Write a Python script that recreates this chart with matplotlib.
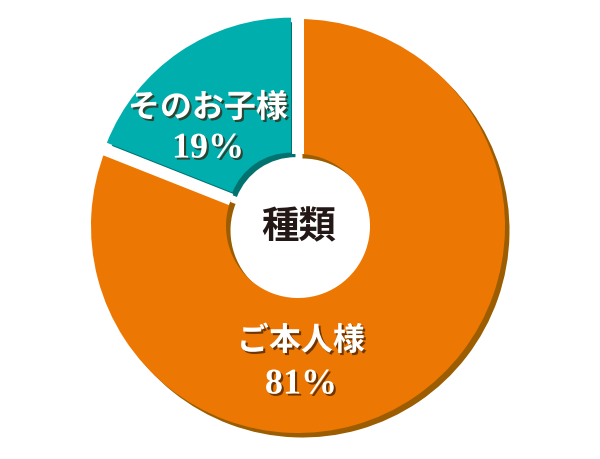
import numpy as np
import matplotlib
matplotlib.use("Agg")
import matplotlib.pyplot as plt
from matplotlib.patches import Wedge
import matplotlib.patheffects as pe

# Chart data
labels = ["ご本人様", "そのお子様"]
shares = [81, 19]
center_title = "種類"

face_colors = ["#ED7703", "#00AEAE"]
shadow_colors = ["#9C5D00", "#00726F"]

# Layout (pixel units, y up)
W, H = 600, 460
CX, CY = 298, 233          # donut centre
R_OUT, R_IN = 207, 72
EXPLODE = [0, 12.5]        # pull-out of each slice
SHRINK = [0, 9]            # radius trim on exploded slice
GAP = 12                   # white gap between slices (px)
SHADOW = (4.5, -4.5)

fig = plt.figure(figsize=(6, 4.6), dpi=100)
ax = fig.add_axes([0, 0, 1, 1])
ax.set_xlim(0, W)
ax.set_ylim(0, H)
ax.axis("off")

# angles: start at 12 o'clock, clockwise
ends = 90 - 3.6 * np.cumsum(shares)
starts = np.concatenate([[90], ends[:-1]])

def slice_center(i):
    mid = np.deg2rad((starts[i] + ends[i]) / 2)
    return CX + EXPLODE[i] * np.cos(mid), CY + EXPLODE[i] * np.sin(mid)

lw_pt = GAP * 72 / 100
for i in range(len(shares)):
    cx, cy = slice_center(i)
    r_out = R_OUT - SHRINK[i]
    r_in = R_IN - SHRINK[i]
    ax.add_patch(Wedge((cx + SHADOW[0], cy + SHADOW[1]), r_out, ends[i], starts[i],
                       width=r_out - r_in, facecolor=shadow_colors[i], edgecolor="none"))
    ax.add_patch(Wedge((cx, cy), r_out, ends[i], starts[i],
                       width=r_out - r_in, facecolor=face_colors[i], edgecolor="none"))
    if EXPLODE[i] == 0:
        # cut white gaps along the radial edges of the fixed slice
        for a in (starts[i], ends[i]):
            t = np.deg2rad(a)
            rr = np.array([R_IN, R_OUT + 8])
            ax.plot(CX + rr * np.cos(t), CY + rr * np.sin(t), color="white",
                    lw=lw_pt, solid_capstyle="butt")

txt_fx = [pe.withSimplePatchShadow(offset=(1.5, -1.5), shadow_rgbFace="#3a1a00", alpha=0.7)]
fam = ["Liberation Serif", "Noto Sans CJK JP"]

# (name y, percent y, x) per slice
label_x = [301, 208]
name_y = [460 - 343, 460 - 110]
pct_y = [460 - 386, 460 - 150]
for i in range(len(shares)):
    ax.text(label_x[i], name_y[i], labels[i], ha="center", va="center",
            color="white", fontsize=23, fontweight="bold", family=fam,
            path_effects=txt_fx)
    ax.text(label_x[i], pct_y[i], f"{shares[i]}%", ha="center", va="center",
            color="white", fontsize=26, fontweight="bold", family=fam,
            path_effects=txt_fx)

ax.text(CX + 1, 460 - 229, center_title, ha="center", va="center", color="#231815",
        fontsize=27, fontweight="bold", family=fam)

fig.savefig("out.png", dpi=100)
